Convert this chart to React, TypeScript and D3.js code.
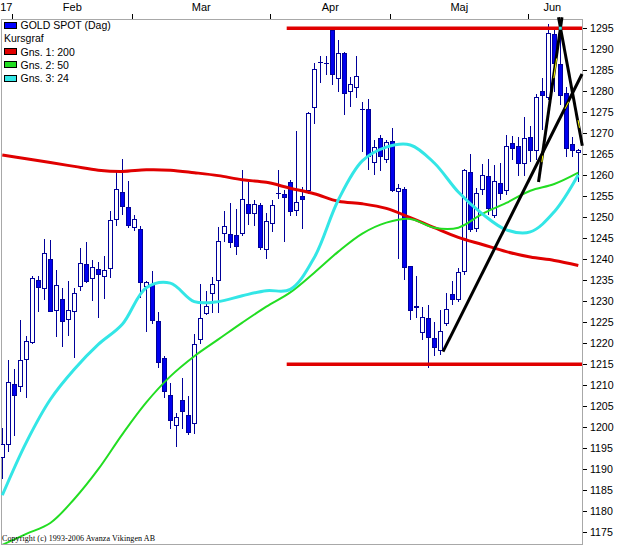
import React from 'react';
import * as d3 from 'd3';

// dagliga kurser, GOLD SPOT (index 0 = första synliga dagen)
const OPEN = [
  1192.8, 1196.1, 1210.4, 1209.9, 1216.3, 1220.2, 1235.1, 1233.2, 1240.1, 1227.8,
  1230.6, 1225.8, 1227.6, 1233.6, 1238.9, 1235.5, 1237.7, 1235.9, 1237.9, 1249.6,
  1256.0, 1252.4, 1247.6, 1247.3, 1233.6, 1234.0, 1225.2, 1216.5, 1207.7, 1200.5,
  1206.4, 1202.8, 1201.1, 1220.9, 1227.1, 1232.0, 1235.1, 1246.2, 1246.0, 1245.8,
  1246.2, 1253.2, 1251.1, 1253.0, 1242.4, 1248.6, 1255.7, 1255.6, 1258.3, 1251.6,
  1255.1, 1256.4, 1276.3, 1287.0, 1286.8, 1294.5, 1283.1, 1289.0, 1280.0, 1280.9,
  1275.8, 1275.8, 1263.2, 1268.8, 1263.8, 1268.2, 1256.3, 1256.7, 1238.3, 1228.6,
  1222.6, 1226.0, 1221.3, 1218.5, 1224.7, 1231.7, 1230.6, 1237.1, 1260.7, 1247.4,
  1256.8, 1259.8, 1250.6, 1258.1, 1256.5, 1267.6, 1267.0, 1263.0, 1269.0, 1266.0,
  1280.0, 1278.7, 1293.7, 1286.4, 1279.6, 1267.4, 1265.6,
];
const HIGH = [
  1199.9, 1215.9, 1213.8, 1225.6, 1221.8, 1236.1, 1236.1, 1244.9, 1244.6, 1237.5,
  1233.2, 1234.7, 1233.2, 1242.7, 1244.1, 1239.9, 1239.3, 1240.7, 1251.4, 1260.7,
  1263.8, 1258.7, 1250.6, 1248.0, 1234.7, 1237.1, 1227.5, 1216.9, 1210.6, 1203.5,
  1211.6, 1207.4, 1222.3, 1234.0, 1232.4, 1235.8, 1247.7, 1251.5, 1253.4, 1251.9,
  1261.3, 1258.5, 1254.1, 1253.4, 1251.1, 1254.1, 1261.3, 1256.5, 1258.9, 1270.5,
  1257.3, 1275.1, 1286.8, 1288.3, 1288.3, 1294.9, 1292.1, 1289.4, 1283.3, 1288.3,
  1277.5, 1278.1, 1268.4, 1269.6, 1268.4, 1271.2, 1257.9, 1257.3, 1238.3, 1236.1,
  1228.7, 1229.0, 1225.0, 1227.8, 1232.0, 1234.7, 1237.9, 1261.4, 1265.0, 1256.9,
  1262.7, 1263.8, 1262.5, 1262.9, 1269.6, 1269.3, 1269.2, 1273.9, 1271.7, 1279.3,
  1283.2, 1295.9, 1295.4, 1293.3, 1281.1, 1269.0, 1266.2,
];
const LOW = [
  1187.6, 1194.0, 1197.9, 1208.5, 1207.0, 1219.7, 1227.5, 1230.4, 1227.4, 1221.5,
  1219.2, 1221.7, 1216.5, 1232.4, 1234.4, 1230.0, 1225.9, 1230.6, 1235.5, 1248.0,
  1250.6, 1247.4, 1246.8, 1230.8, 1222.7, 1224.5, 1214.2, 1207.0, 1199.5, 1195.2,
  1199.5, 1198.1, 1198.3, 1219.7, 1226.6, 1227.2, 1227.1, 1244.0, 1242.7, 1241.1,
  1245.6, 1248.2, 1247.8, 1242.3, 1240.1, 1246.4, 1254.3, 1244.2, 1250.2, 1250.2,
  1247.2, 1255.6, 1272.2, 1281.9, 1283.8, 1281.5, 1279.9, 1274.3, 1276.2, 1278.3,
  1265.6, 1261.3, 1260.1, 1260.9, 1262.9, 1256.0, 1240.0, 1235.1, 1225.6, 1226.0,
  1220.7, 1214.2, 1216.9, 1217.3, 1224.0, 1229.2, 1229.9, 1236.3, 1246.5, 1246.5,
  1255.3, 1250.6, 1249.9, 1254.1, 1255.3, 1263.6, 1259.7, 1259.7, 1263.2, 1263.6,
  1270.8, 1277.9, 1279.9, 1276.7, 1264.4, 1264.4, 1258.5,
];
const CLOSE = [
  1195.9, 1210.8, 1207.7, 1216.1, 1220.6, 1235.5, 1233.3, 1241.5, 1227.6, 1233.8,
  1225.4, 1227.9, 1232.0, 1239.1, 1234.9, 1238.2, 1236.5, 1237.5, 1249.4, 1256.7,
  1252.7, 1248.2, 1249.6, 1234.5, 1234.5, 1225.5, 1215.6, 1208.6, 1201.7, 1202.5,
  1203.9, 1198.9, 1219.9, 1226.0, 1228.8, 1234.1, 1244.4, 1248.0, 1244.2, 1243.2,
  1254.3, 1251.1, 1253.1, 1242.9, 1249.2, 1253.0, 1255.7, 1254.9, 1251.4, 1253.6,
  1254.4, 1274.9, 1285.4, 1287.0, 1286.8, 1284.2, 1289.0, 1279.6, 1281.6, 1283.6,
  1275.8, 1264.6, 1266.7, 1264.6, 1267.8, 1256.4, 1256.9, 1238.2, 1228.0, 1228.8,
  1226.3, 1221.5, 1219.2, 1222.9, 1228.2, 1230.6, 1237.0, 1261.3, 1247.2, 1255.7,
  1260.1, 1252.2, 1258.7, 1255.7, 1267.0, 1266.4, 1262.9, 1268.8, 1266.0, 1278.7,
  1279.1, 1293.9, 1286.6, 1279.1, 1266.4, 1265.9, 1266.0,
];

// glidande medelvärden, avlästa var fjärde dag
const MA_INDEX = [0, 4, 8, 12, 16, 20, 24, 28, 32, 36, 40, 44, 48, 52, 56, 60, 64, 68, 72, 76, 80, 84, 88, 92, 96];
const MA200 = [
  1264.8, 1263.9, 1263.0, 1262.1, 1261.2, 1260.9, 1261.3, 1261.2, 1260.6, 1259.9, 1258.9, 1258.3, 1256.9,
  1255.6, 1253.8, 1253.2, 1252.1, 1249.9, 1247.5, 1245.2, 1243.5, 1241.8, 1240.5, 1239.7, 1238.5,
];
const MA50 = [
  1172.0, 1174.6, 1177.2, 1182.9, 1190.0, 1198.3, 1205.9, 1212.1, 1216.9, 1220.9, 1224.9, 1228.7, 1232.1,
  1236.8, 1241.8, 1246.1, 1248.7, 1249.6, 1247.5, 1247.5, 1250.8, 1253.4, 1256.3, 1257.9, 1260.6,
];
const MA24 = [
  1183.8, 1196.4, 1206.6, 1213.8, 1219.7, 1224.5, 1233.2, 1234.3, 1229.9, 1229.9, 1231.3, 1232.5, 1232.8,
  1240.4, 1254.1, 1263.4, 1266.7, 1267.2, 1262.9, 1256.0, 1250.8, 1247.0, 1246.5, 1251.3, 1260.1,
];

// stöd / motstånd och trendlinjer: [index, kurs]
const LEVELS = [1295, 1215];
const LEVEL_START = 47.4;
const TRENDLINES: [number, number][][] = [
  [[73.45, 1218.0], [96.62, 1284.1]],
  [[89.37, 1258.4], [93.28, 1297.6]],
  [[92.7, 1297.6], [96.67, 1267.0]],
];
// gula markeringar längs trendlinjerna: [linje, från, till] (andel av linjen)
const HIGHLIGHTS: [number, number, number][] = [
  [0, 0.875, 0.9],
  [1, 0.12, 0.16],
  [1, 0.63, 0.75],
  [2, 0.8, 0.86],
];

const MONTH_STARTS = [2, 22, 45, 65, 88];
const MONTH_LABELS = ['17', 'Feb', 'Mar', 'Apr', 'Maj', 'Jun'];
const Y_TICKS = d3.range(1175, 1296, 5);

const LEGEND = [
  { label: 'GOLD SPOT (Dag)', color: '#0000ff' },
  { label: 'Kursgraf', color: null },
  { label: 'Gns. 1: 200', color: '#e00000' },
  { label: 'Gns. 2: 50', color: '#22dd22' },
  { label: 'Gns. 3: 24', color: '#33e6e6' },
];

const W = 617;
const H = 546;
const LEFT = 1;
const RIGHT = 582;
const TOP = 19;
const BOTTOM = 544;
const FONT = '"Liberation Sans", Arial, sans-serif';

const UP_FILL = '#ffffff';
const DOWN_FILL = '#0000ee';
const CANDLE_STROKE = '#000099';

function App() {
  const x = d3.scaleLinear().domain([0, 96]).range([2.3, 578.3]);
  const y = d3.scaleLinear().domain([1175, 1295]).range([532.2, 28.2]);
  const px = (v: number) => Math.round(v) + 0.5;

  const maLine = (values: number[]) =>
    d3
      .line<number>()
      .x((_, i) => x(MA_INDEX[i]))
      .y((d) => y(d))
      .curve(d3.curveCatmullRom)(values) || '';

  const tickX = MONTH_STARTS.map((s) => x(s) - 2);
  const bounds = [x(0) - 2, ...tickX, x(96) - 2];

  return (
    <svg
      width={W}
      height={H}
      viewBox={`0 0 ${W} ${H}`}
      style={{ position: 'absolute', left: 0, top: 0, background: '#fff', display: 'block' }}
    >
      <defs>
        <clipPath id="plot">
          <rect x={LEFT} y={TOP} width={RIGHT - LEFT} height={BOTTOM - TOP} />
        </clipPath>
      </defs>
      <rect width={W} height={H} fill="#fff" />

      {/* ram */}
      <rect
        x={LEFT + 0.5}
        y={TOP + 0.5}
        width={RIGHT - LEFT}
        height={BOTTOM - TOP}
        fill="none"
        stroke="#a8a8a8"
        shapeRendering="crispEdges"
      />

      {/* månader */}
      <g fontFamily={FONT} fontSize={11} fill="#000">
        {tickX.map((t, i) => (
          <line key={`mt${i}`} x1={px(t)} x2={px(t)} y1={14} y2={19} stroke="#000" shapeRendering="crispEdges" />
        ))}
        {MONTH_LABELS.map((m, i) => (
          <text key={m} x={(bounds[i] + bounds[i + 1]) / 2} y={11} textAnchor="middle">
            {m}
          </text>
        ))}
      </g>

      {/* y-axel */}
      <g fontFamily={FONT} fontSize={10.6} fill="#000">
        {Y_TICKS.map((t) => (
          <g key={t}>
            <line x1={583} x2={587} y1={px(y(t))} y2={px(y(t))} stroke="#000" shapeRendering="crispEdges" />
            <text x={590} y={y(t) + 4}>
              {t}
            </text>
          </g>
        ))}
      </g>

      <g clipPath="url(#plot)">
        {/* staplar */}
        {OPEN.map((o, i) => {
          const c = CLOSE[i];
          const cx = px(x(i));
          const top = Math.round(y(Math.max(o, c)));
          const bot = Math.round(y(Math.min(o, c)));
          const up = c >= o;
          return (
            <g key={`c${i}`} shapeRendering="crispEdges">
              <line x1={cx} x2={cx} y1={Math.round(y(HIGH[i]))} y2={Math.round(y(LOW[i]))} stroke={CANDLE_STROKE} />
              {bot - top < 1 ? (
                <line x1={cx - 2.5} x2={cx + 2.5} y1={top + 0.5} y2={top + 0.5} stroke={CANDLE_STROKE} />
              ) : (
                <rect
                  x={cx - 2}
                  y={top + 0.5}
                  width={4}
                  height={bot - top}
                  fill={up ? UP_FILL : DOWN_FILL}
                  stroke={CANDLE_STROKE}
                />
              )}
            </g>
          );
        })}

        {/* medelvärden */}
        <path d={maLine(MA200)} fill="none" stroke="#e00000" strokeWidth={3} />
        <path d={maLine(MA50)} fill="none" stroke="#22dd22" strokeWidth={2} />
        <path d={maLine(MA24)} fill="none" stroke="#33e6e6" strokeWidth={3} />

        {/* nivåer */}
        {LEVELS.map((l) => (
          <line
            key={`l${l}`}
            x1={x(LEVEL_START)}
            x2={RIGHT}
            y1={y(l)}
            y2={y(l)}
            stroke="#e00000"
            strokeWidth={3.5}
          />
        ))}
      </g>

      {/* trendlinjer */}
      {TRENDLINES.map((seg, i) => (
        <line
          key={`t${i}`}
          x1={x(seg[0][0])}
          y1={y(seg[0][1])}
          x2={x(seg[1][0])}
          y2={y(seg[1][1])}
          stroke="#000"
          strokeWidth={3}
        />
      ))}
      {HIGHLIGHTS.map(([li, a, b], i) => {
        const [[i0, p0], [i1, p1]] = TRENDLINES[li];
        const lx = d3.interpolateNumber(x(i0), x(i1));
        const ly = d3.interpolateNumber(y(p0), y(p1));
        return (
          <line
            key={`h${i}`}
            x1={lx(a) + 0.5}
            y1={ly(a)}
            x2={lx(b) + 0.5}
            y2={ly(b)}
            stroke="#ffff00"
            strokeWidth={1}
          />
        );
      })}
      <rect x={x(93.0) - 1.5} y={y(1295) - 1.5} width={3} height={3} fill="#33e6e6" />

      {/* teckenförklaring */}
      <g fontFamily={FONT} fontSize={10.5} fill="#000">
        {LEGEND.map((d, i) => {
          const cy = 25.2 + i * 13.2;
          return (
            <g key={d.label}>
              {d.color && (
                <rect
                  x={4.5}
                  y={Math.round(cy - 3.5) + 0.5}
                  width={12}
                  height={6}
                  fill={d.color}
                  stroke="#000"
                  shapeRendering="crispEdges"
                />
              )}
              <text x={d.color ? 20.5 : 4} y={cy + 4}>
                {d.label}
              </text>
            </g>
          );
        })}
      </g>

      <text x={2} y={541} fontFamily='"Liberation Serif", "Times New Roman", serif' fontSize={8} textLength={153} fill="#000">
        Copyright (c) 1993-2006 Avanza Vikingen AB
      </text>
    </svg>
  );
}

export default App;
